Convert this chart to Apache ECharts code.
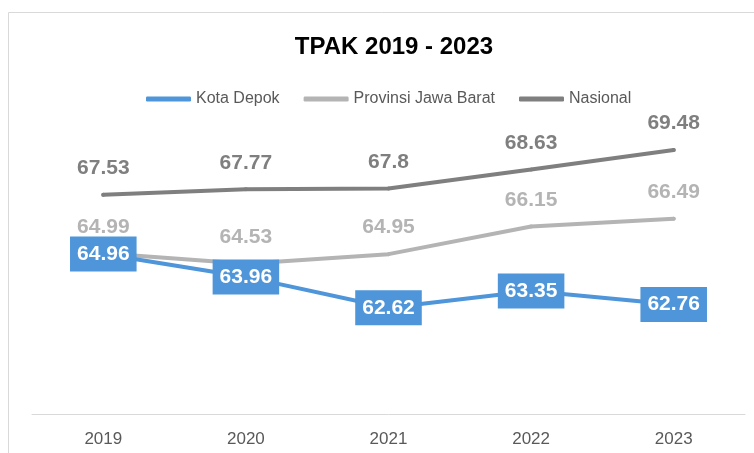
<!DOCTYPE html>
<html>
<head>
<meta charset="utf-8">
<title>TPAK 2019 - 2023</title>
<script src="https://cdn.jsdelivr.net/npm/echarts@6/dist/echarts.min.js"></script>
<style>
  html, body { margin: 0; padding: 0; background: #fff; }
  #main { width: 754px; height: 453px; }
</style>
</head>
<body>
<div id="main"></div>
<script>
// data
var years = ['2019', '2020', '2021', '2022', '2023'];
var kotaDepok = [64.96, 63.96, 62.62, 63.35, 62.76];
var jawaBarat = [64.99, 64.53, 64.95, 66.15, 66.49];
var nasional = [67.53, 67.77, 67.8, 68.63, 69.48];

var chart = echarts.init(document.getElementById('main'));

function lineSeries(name, data, color, z, label) {
  return {
    name: name,
    type: 'line',
    data: data,
    z: z,
    symbol: 'circle',
    symbolSize: 4,
    showSymbol: true,
    color: color,
    itemStyle: { color: color },
    lineStyle: { width: 4, color: color, cap: 'round' },
    label: label
  };
}

var option = {
  animation: false,
  backgroundColor: '#fff',
  title: {
    text: 'TPAK 2019 - 2023',
    left: 389,
    textAlign: 'center',
    top: 30,
    textStyle: { fontFamily: 'Liberation Sans', fontWeight: 'bold', fontSize: 24, color: '#000' }
  },
  legend: {
    left: 141,
    top: 86,
    icon: 'roundRect',
    itemWidth: 45,
    itemHeight: 5,
    itemGap: 24,
    textStyle: { fontFamily: 'Liberation Sans', fontSize: 16, color: '#595959' },
    data: ['Kota Depok', 'Provinsi Jawa Barat', 'Nasional']
  },
  grid: { left: 32, right: 9, top: 138, bottom: 39 },
  xAxis: {
    type: 'category',
    data: years,
    axisLine: { lineStyle: { color: '#d9d9d9', width: 1 } },
    axisTick: { show: false },
    axisLabel: { fontFamily: 'Liberation Sans', fontSize: 17, color: '#595959', margin: 17 }
  },
  yAxis: {
    type: 'value',
    min: 58,
    max: 70,
    show: false,
    splitLine: { show: false }
  },
  graphic: [{
    type: 'rect',
    shape: { x: 8.5, y: 12.5, width: 800, height: 500 },
    style: { fill: 'none', stroke: '#d9d9d9', lineWidth: 1 },
    silent: true,
    z: -1
  }],
  series: [
    lineSeries('Kota Depok', kotaDepok, '#4e95d9', 5, {
      show: true,
      position: 'inside',
      fontFamily: 'Liberation Sans',
      fontWeight: 'bold',
      fontSize: 21,
      color: '#fff',
      backgroundColor: '#4e95d9',
      padding: [7, 7, 7, 7]
    }),
    lineSeries('Provinsi Jawa Barat', jawaBarat, '#b4b4b4', 3, {
      show: true,
      position: 'top',
      distance: 14,
      fontFamily: 'Liberation Sans',
      fontWeight: 'bold',
      fontSize: 21,
      color: '#b4b4b4'
    }),
    lineSeries('Nasional', nasional, '#7f7f7f', 2, {
      show: true,
      position: 'top',
      distance: 14,
      fontFamily: 'Liberation Sans',
      fontWeight: 'bold',
      fontSize: 21,
      color: '#7f7f7f'
    })
  ]
};

chart.setOption(option);
</script>
</body>
</html>
